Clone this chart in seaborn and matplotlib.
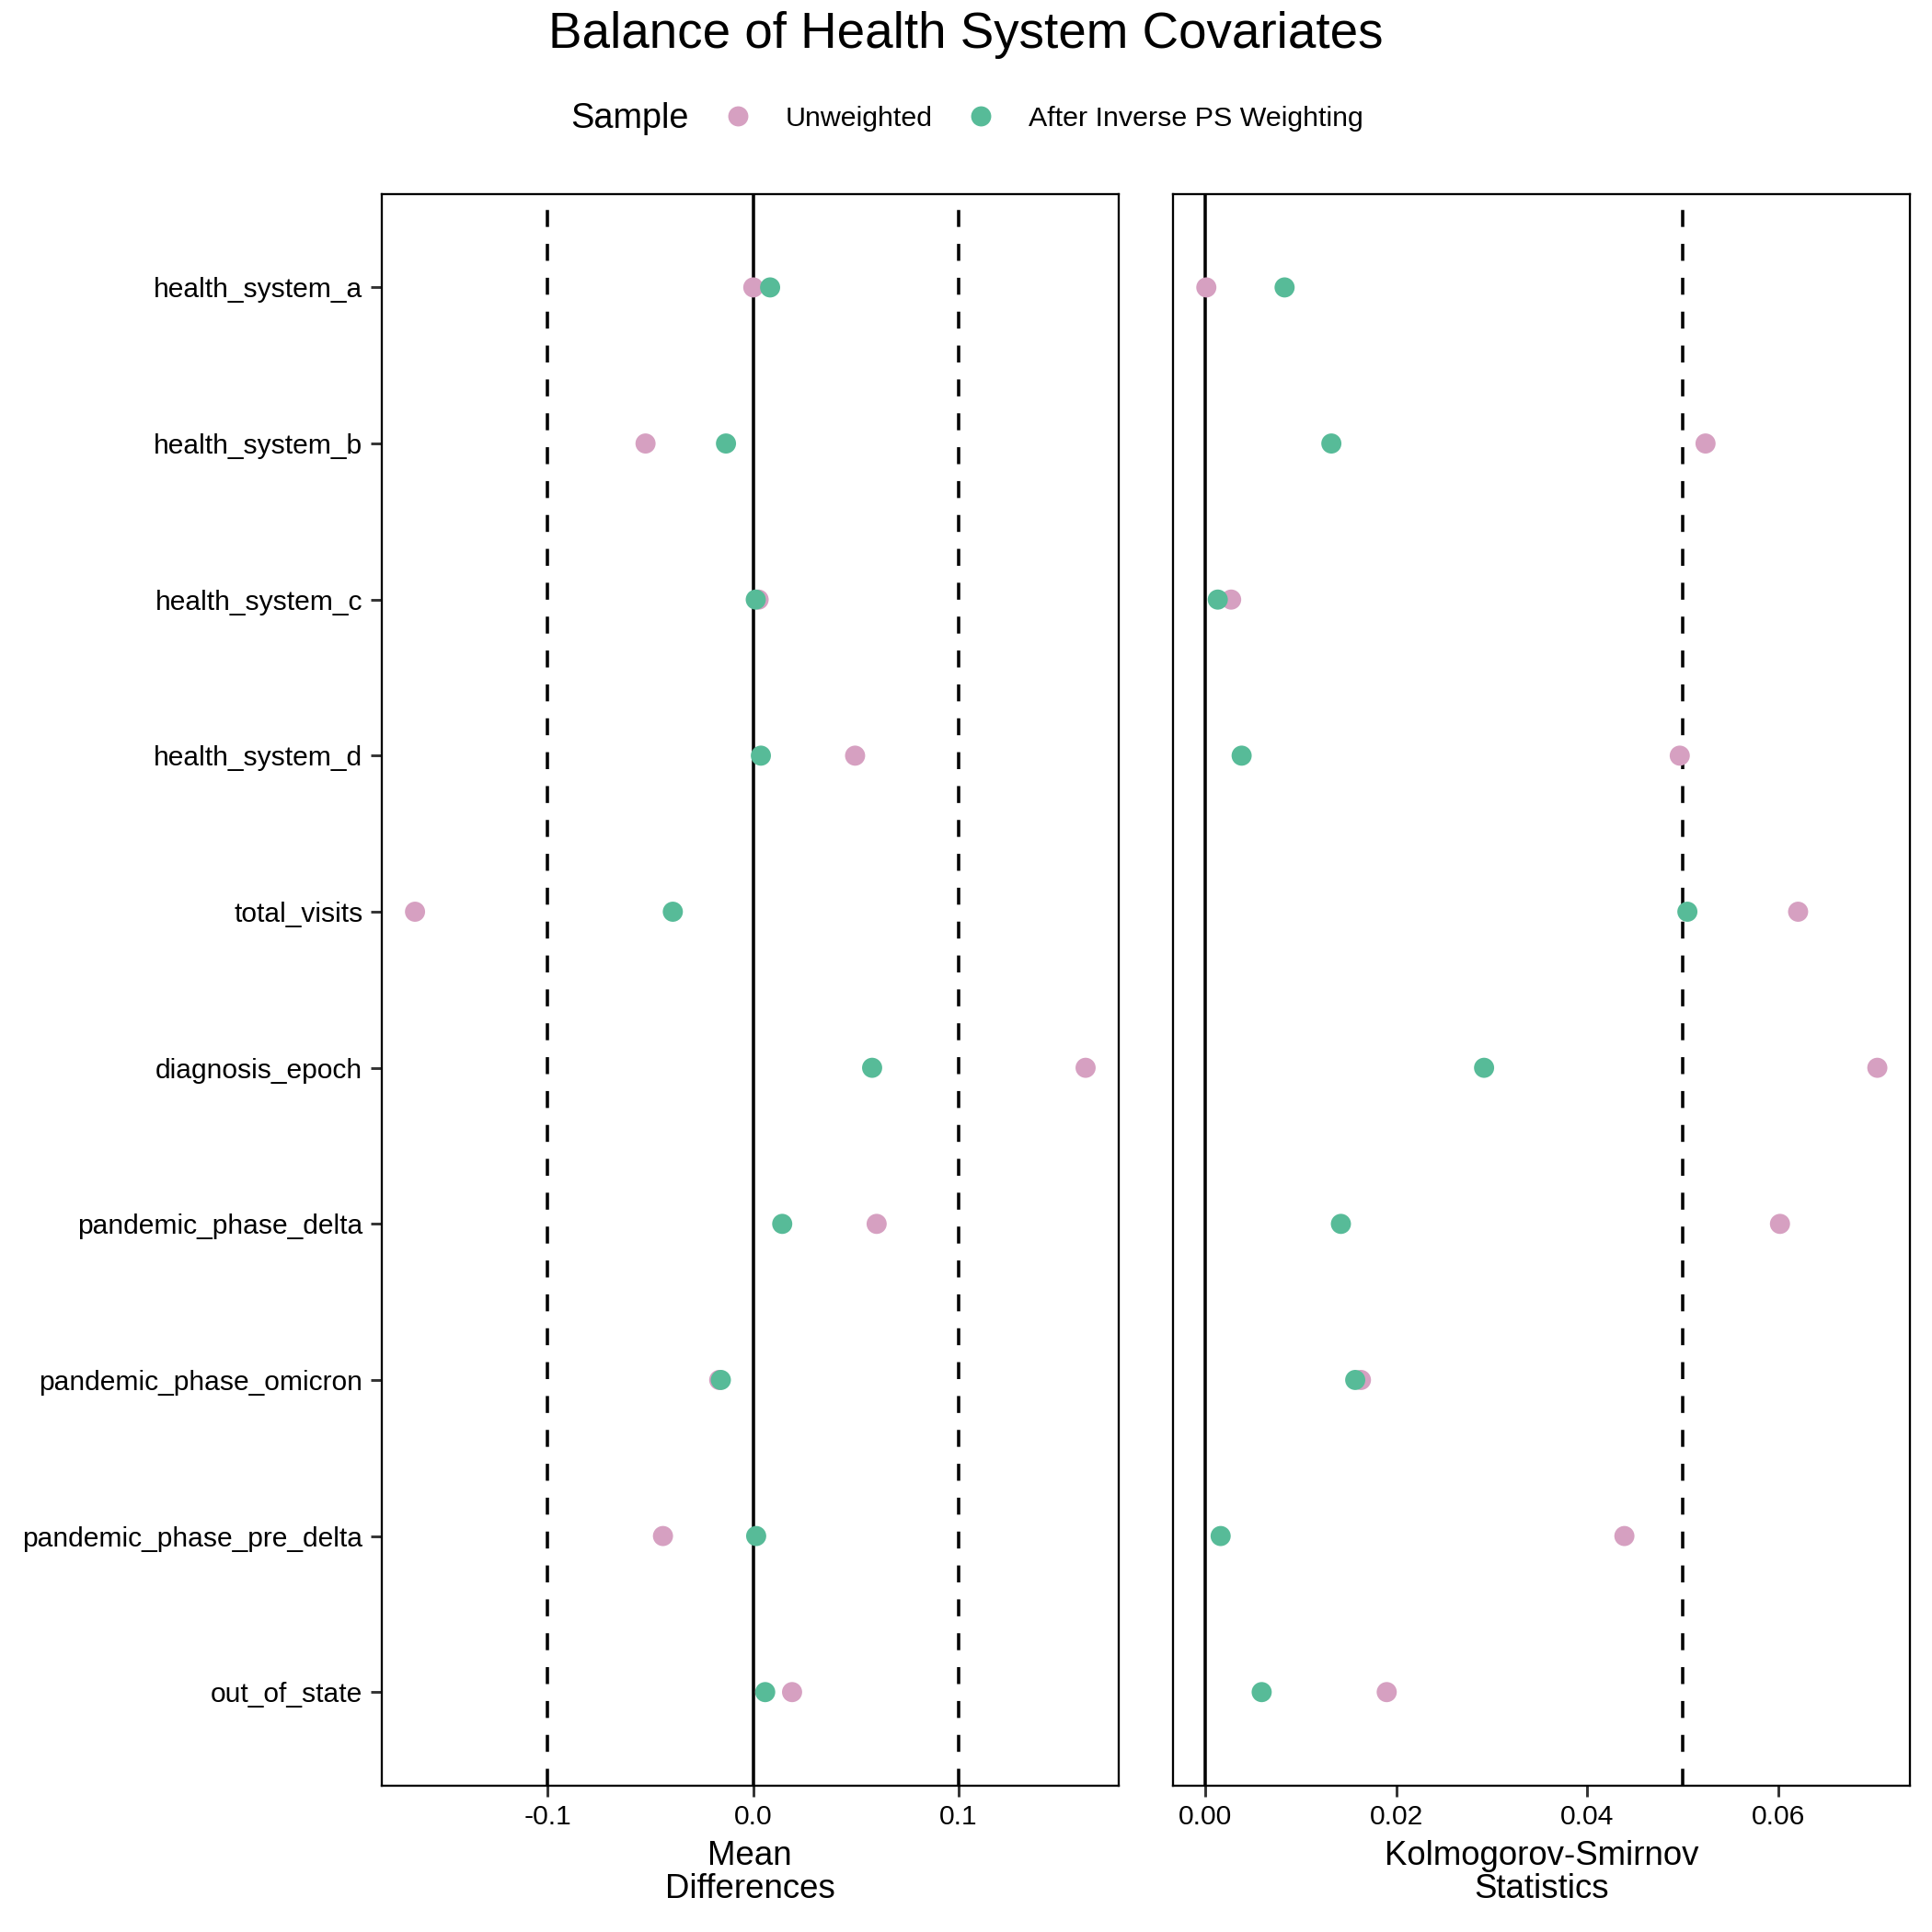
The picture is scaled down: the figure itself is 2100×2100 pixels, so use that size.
import numpy as np
import pandas as pd
import matplotlib
matplotlib.use('Agg')
import matplotlib.pyplot as plt
from matplotlib.lines import Line2D
import seaborn as sns

# ── data ──
covariates = ["health_system_a", "health_system_b", "health_system_c", "health_system_d",
              "total_visits", "diagnosis_epoch", "pandemic_phase_delta",
              "pandemic_phase_omicron", "pandemic_phase_pre_delta", "out_of_state"]

mean_diff_unweighted = [0.0001, -0.0524, 0.0027, 0.0497, -0.1647, 0.1620, 0.0602, -0.0165, -0.0439, 0.0190]
mean_diff_weighted = [0.0083, -0.0132, 0.0013, 0.0038, -0.0391, 0.0580, 0.0142, -0.0157, 0.0015, 0.0059]

ks_unweighted = [0.0001, 0.0524, 0.0027, 0.0497, 0.0621, 0.0704, 0.0602, 0.0163, 0.0439, 0.0190]
ks_weighted = [0.0083, 0.0132, 0.0013, 0.0038, 0.0505, 0.0292, 0.0142, 0.0157, 0.0016, 0.0059]

samples = ["Unweighted", "After Inverse PS Weighting"]
colors = {"Unweighted": "#D6A0C1", "After Inverse PS Weighting": "#57BB98"}

df = pd.DataFrame({
    "covariate": covariates * 2,
    "sample": [samples[0]] * len(covariates) + [samples[1]] * len(covariates),
    "mean_diff": mean_diff_unweighted + mean_diff_weighted,
    "ks": ks_unweighted + ks_weighted,
})

sns.set_style("white")
plt.rcParams['font.family'] = ['Liberation Sans', 'DejaVu Sans']
plt.rcParams['text.color'] = 'black'
plt.rcParams['axes.labelcolor'] = 'black'

fig = plt.figure(figsize=(14, 14), dpi=150)
ax1 = fig.add_axes([0.1975, 0.0757, 0.3814, 0.824])
ax2 = fig.add_axes([0.6071, 0.0757, 0.3814, 0.824])

panels = [
    (ax1, "mean_diff", "Mean\nDifferences", [-0.1, 0.1], (-0.181, 0.178), [-0.1, 0.0, 0.1], ["-0.1", "0.0", "0.1"]),
    (ax2, "ks", "Kolmogorov-Smirnov\nStatistics", [0.05], (-0.0034, 0.0738), [0.0, 0.02, 0.04, 0.06], ["0.00", "0.02", "0.04", "0.06"]),
]

for ax, col, xlabel, thresholds, xlim, xticks, xticklabels in panels:
    ax.axvline(0, color="black", lw=1.7, zorder=0.5)
    for t in thresholds:
        ax.axvline(t, color="black", lw=1.7, ls=(0, (5.2, 5.2)), zorder=0.5)
    sns.stripplot(data=df, x=col, y="covariate", hue="sample", order=covariates,
                  hue_order=samples, palette=colors, jitter=False, size=10.5,
                  linewidth=0, legend=False, ax=ax, zorder=2)
    ax.set_xlim(*xlim)
    ax.set_ylim(len(covariates) - 1 + 0.6, -0.6)
    ax.set_xticks(xticks)
    ax.set_xticklabels(xticklabels)
    ax.set_xlabel(xlabel, fontsize=17.6, labelpad=5, linespacing=1.05)
    ax.set_ylabel("")
    ax.tick_params(axis="both", which="both", length=5.8, width=1.4, color="#333333",
                   labelsize=14.4, labelcolor="black", pad=4)
    ax.tick_params(axis="x", bottom=True)
    ax.tick_params(axis="y", left=True)
    for s in ax.spines.values():
        s.set_color("black")
        s.set_linewidth(1.1)

ax2.set_yticklabels([])
ax2.tick_params(axis="y", left=False)

fig.text(0.5, 0.982, "Balance of Health System Covariates", ha="center", va="center", fontsize=26.3)

# legend laid out horizontally with title on the left
fig.text(0.2955, 0.9386, "Sample", ha="left", va="center", fontsize=18.2)
handles = [Line2D([], [], marker="o", ls="", markersize=10.5, markerfacecolor=colors[s],
                  markeredgewidth=0) for s in samples]
fig.legend(handles, samples, loc="center left", bbox_to_anchor=(0.369, 0.9386), ncol=2,
           frameon=False, fontsize=14.6, handletextpad=1.2, columnspacing=1.22,
           handlelength=1.0, borderaxespad=0)

fig.savefig("out.png", dpi=150)
